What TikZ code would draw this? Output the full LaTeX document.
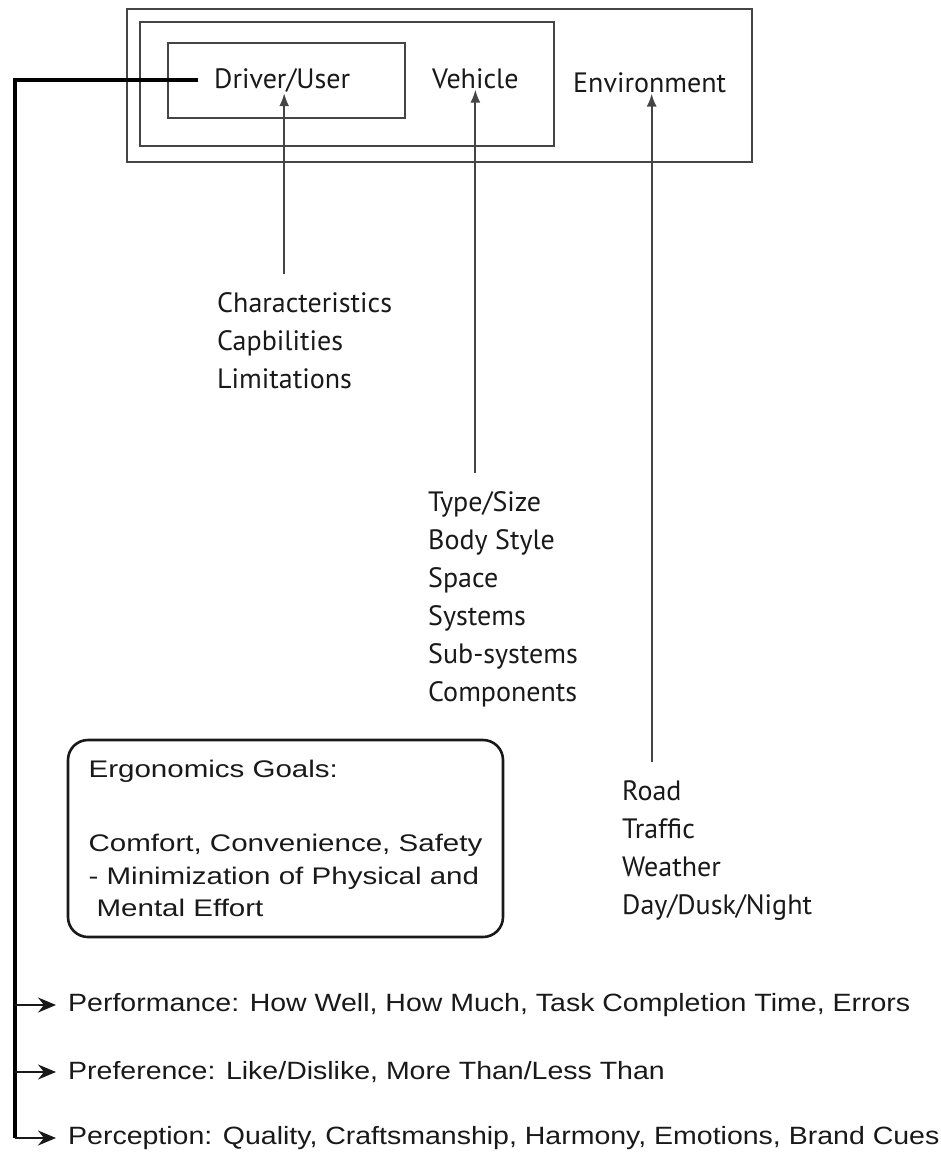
\documentclass[tikz,border=0pt]{standalone}
\usepackage{fontspec}
\newfontfamily\labelfont{PT Sans}
\newfontfamily\goalfont[FakeStretch=1.23]{Liberation Sans}
\newfontfamily\resultfont[FakeStretch=1.14]{Liberation Sans}
\usetikzlibrary{positioning}
\usetikzlibrary{arrows.meta}
\definecolor{boxgray}{rgb}{0.27, 0.27, 0.27}
\definecolor{inkgray}{rgb}{0.1, 0.1, 0.1}
\tikzset {
        framebox/.style={draw=boxgray, line width=2.6pt},
        toplabel/.style={inner sep=0pt, anchor=base west, text=inkgray, font=\labelfont\fontsize{28}{30}\selectfont},
        listnode/.style={inner sep=0pt, anchor=north west, align=left, text=inkgray, font=\labelfont\fontsize{28}{38}\selectfont},
        factorarrow/.style={draw=boxgray, line width=2pt, -{Latex[length=13pt,width=10pt]}, shorten <=18pt},
        goalbox/.style={draw=inkgray, line width=2.6pt, rounded corners=20pt, align=left, minimum width=435pt, minimum height=197pt, text=inkgray, font=\goalfont\fontsize{24}{32.5}\selectfont},
        resultnode/.style={inner sep=0pt, anchor=west, text=inkgray, font=\resultfont\fontsize{25}{30}\selectfont},
        spine/.style={draw=black, line width=3.2pt},
        branch/.style={draw=inkgray, line width=2.2pt, -{Stealth[length=18pt,width=15pt,inset=6pt]}, shorten >=12pt}
}

\begin{document}
\begin{tikzpicture}[x=1pt, y=-1pt]
            \useasboundingbox (0,0) rectangle (941,1153);

            \draw[framebox] (127,9) rectangle (752,162);
            \draw[framebox] (140,22) rectangle (554,146);
            \draw[framebox] (168,43) rectangle (405,118);

            \node[toplabel] (DriverUser) at (214,89) {Driver/User};
            \node[toplabel] (Vehicle) at (432,89) {Vehicle};
            \node[toplabel] (Environment) at (573,93) {Environment};

            \node[listnode] (UserFactors) at (217,292) {
                Characteristics\\Capbilities\\Limitations
            };
            \node[listnode] (VehicleFactors) at (428,491) {
                Type/Size\\Body Style\\Space\\Systems\\Sub-systems\\Components
            };
            \node[listnode] (EnvFactors) at (622,780) {
                Road\\Traffic\\Weather\\Day/Dusk/Night
            };

            \node[goalbox] (ErgoGoals) at (285.5,838.5) {
                Ergonomics Goals:\\[42pt]Comfort, Convenience, Safety\\- Minimization of Physical and\\\hspace*{8pt}Mental Effort
            };

            \node[resultnode] (Performance) at (68,1005) {Performance: How Well, How Much, Task Completion Time, Errors};
            \node[resultnode] (Preference) at (68,1072) {Preference: Like/Dislike, More Than/Less Than};
            \node[resultnode] (Perception) at (68,1138) {Perception: Quality, Craftsmanship, Harmony, Emotions, Brand Cues};

            \draw[factorarrow] ([xshift=2pt]DriverUser.south |- UserFactors.north) -- ([xshift=2pt]DriverUser.south);
            \draw[factorarrow] (Vehicle.south |- VehicleFactors.north) -- (Vehicle.south);
            \draw[factorarrow] ([xshift=2pt]Environment.south |- EnvFactors.north) -- ([xshift=2pt]Environment.south);

            \coordinate (SpineTop) at (15,80);
            \draw[spine] ([xshift=-16pt]DriverUser.west |- SpineTop) -- (SpineTop) -- (SpineTop |- Perception.west);
            \draw[branch] (SpineTop |- Performance.west) -- (Performance.west);
            \draw[branch] (SpineTop |- Preference.west) -- (Preference.west);
            \draw[branch] (SpineTop |- Perception.west) -- (Perception.west);
\end{tikzpicture}
\end{document}
